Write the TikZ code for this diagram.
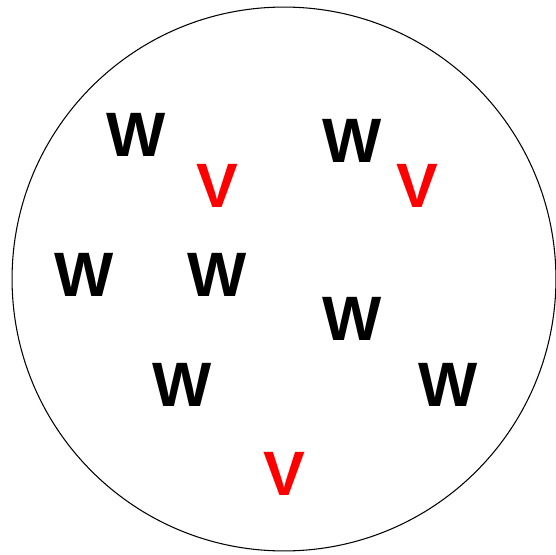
\documentclass[tikz,border=0pt]{standalone}
\usepackage{fontspec}
\setmainfont{Liberation Sans}
\begin{document}
\begin{tikzpicture}[x=0.02cm, y=-0.02cm,
	letw/.style={inner sep=0pt, font=\fontsize{35.7}{40}\selectfont\bfseries, text=black},
	letv/.style={letw, text=red}]
	\useasboundingbox (0,0) rectangle (556,555);
	% the set
	\draw[line width=0.6pt] (284,279) circle [radius=5.44cm];
	% elements W
	\node[letw] (w1) at (136.5,134.5) {W};
	\node[letw] (w2) at (352,141) {W};
	\node[letw] (w3) at (84.5,274.5) {W};
	\node[letw] (w4) at (217,274.5) {W};
	\node[letw] (w5) at (352,318.5) {W};
	\node[letw] (w6) at (182.5,385) {W};
	\node[letw] (w7) at (448,385) {W};
	% elements V
	\node[letv] (v1) at (217.5,185.5) {V};
	\node[letv] (v2) at (417.5,186) {V};
	\node[letv] (v3) at (284,473.5) {V};
\end{tikzpicture}
\end{document}
